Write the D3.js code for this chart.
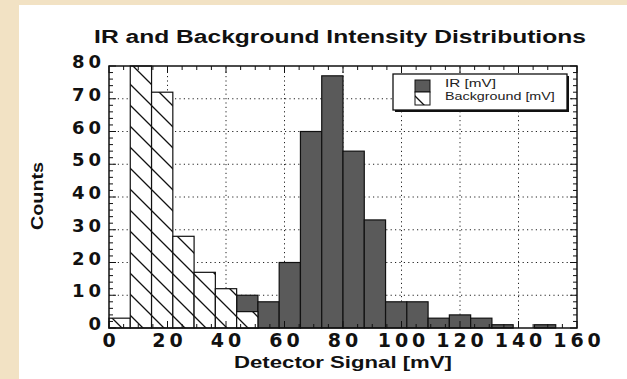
<!DOCTYPE html>
<html>
<head>
<meta charset="utf-8">
<script src="https://cdn.jsdelivr.net/npm/d3@7"></script>
<style>
  body { margin: 0; background: #f2e2c4; }
  svg { display: block; }
</style>
</head>
<body>
<svg id="chart" width="627" height="379"></svg>
<script>
// histogram bin edges (mV), 22 bins over 0..160
const binEdges = [0, 7.27, 14.55, 21.82, 29.09, 36.36, 43.64, 50.91, 58.18, 65.45, 72.73,
  80, 87.27, 94.55, 101.82, 109.09, 116.36, 123.64, 130.91, 138.18, 145.45, 152.73, 160];
const irCounts = [0, 0, 0, 0, 0, 0, 10, 8, 20, 60, 77, 54, 33, 8, 8, 3, 4, 3, 1, 0, 1, 0];
const bgCounts = [3, 80, 72, 28, 17, 12, 5, 0, 0, 0, 0, 0, 0, 0, 0, 0, 0, 0, 0, 0, 0, 0];
const xTicks = [0, 20, 40, 60, 80, 100, 120, 140, 160];
const yTicks = [0, 10, 20, 30, 40, 50, 60, 70, 80];
const legendLabels = ['IR [mV]', 'Background [mV]'];

const svg = d3.select('#chart');

// white paper panel on the beige page
svg.append('rect').attr('x', 19).attr('y', 5).attr('width', 620).attr('height', 380).attr('fill', '#fff');

const x = d3.scaleLinear().domain([0, 160]).range([109, 577]);
const y = d3.scaleLinear().domain([0, 80]).range([328, 66]);

const defs = svg.append('defs');
const hatch = defs.append('pattern')
  .attr('id', 'hatch')
  .attr('patternUnits', 'userSpaceOnUse')
  .attr('x', 4).attr('y', 0)
  .attr('width', 21).attr('height', 21);
hatch.append('rect').attr('width', 21).attr('height', 21).attr('fill', '#fff');
hatch.append('path')
  .attr('d', 'M-2,-2L23,23M-2,19L2,23M19,-2L23,2')
  .attr('stroke', '#111').attr('stroke-width', 1.3);

// squeeze/stretch text horizontally to a target width
function fitText(t, w) {
  const len = t.node().getComputedTextLength();
  const cx = +t.attr('data-x'), cy = +t.attr('data-y');
  t.attr('transform', 'translate(' + cx + ',' + cy + ') scale(' + (w / len) + ',1)');
}

// grid
const grid = svg.append('g').attr('stroke', '#222').attr('stroke-dasharray', '1.2,3.2').attr('stroke-width', 1);
grid.selectAll('.gx').data(xTicks.slice(1, -1)).enter().append('line')
  .attr('x1', d => x(d)).attr('x2', d => x(d)).attr('y1', y(0)).attr('y2', y(80));
grid.selectAll('.gy').data(yTicks.slice(1, -1)).enter().append('line')
  .attr('y1', d => y(d)).attr('y2', d => y(d)).attr('x1', x(0)).attr('x2', x(160));

// IR bars
svg.append('g').selectAll('rect')
  .data(irCounts.map((v, i) => ({ v, i })).filter(d => d.v > 0))
  .enter().append('rect')
  .attr('x', d => x(binEdges[d.i]))
  .attr('width', d => x(binEdges[d.i + 1]) - x(binEdges[d.i]))
  .attr('y', d => y(d.v))
  .attr('height', d => y(0) - y(d.v))
  .attr('fill', '#5a5a5a')
  .attr('stroke', '#111').attr('stroke-width', 1.2);

// background bars (drawn on top)
svg.append('g').selectAll('rect')
  .data(bgCounts.map((v, i) => ({ v, i })).filter(d => d.v > 0))
  .enter().append('rect')
  .attr('x', d => x(binEdges[d.i]))
  .attr('width', d => x(binEdges[d.i + 1]) - x(binEdges[d.i]))
  .attr('y', d => y(d.v))
  .attr('height', d => y(0) - y(d.v))
  .attr('fill', 'url(#hatch)')
  .attr('stroke', '#111').attr('stroke-width', 1.2);

// frame
svg.append('rect')
  .attr('x', x(0)).attr('y', y(80))
  .attr('width', x(160) - x(0)).attr('height', y(0) - y(80))
  .attr('fill', 'none').attr('stroke', '#111').attr('stroke-width', 1.5);

// inward ticks on all four sides
const ticks = svg.append('g').attr('stroke', '#111').attr('stroke-width', 1);
const xMinor = d3.range(0, 161, 5);
const yMinor = d3.range(0, 81, 2);
xMinor.forEach(v => {
  const len = v % 20 === 0 ? 7 : 4;
  ticks.append('line').attr('x1', x(v)).attr('x2', x(v)).attr('y1', y(0)).attr('y2', y(0) - len);
  ticks.append('line').attr('x1', x(v)).attr('x2', x(v)).attr('y1', y(80)).attr('y2', y(80) + len);
});
yMinor.forEach(v => {
  const len = v % 10 === 0 ? 7 : 4;
  ticks.append('line').attr('y1', y(v)).attr('y2', y(v)).attr('x1', x(0)).attr('x2', x(0) + len);
  ticks.append('line').attr('y1', y(v)).attr('y2', y(v)).attr('x1', x(160)).attr('x2', x(160) - len);
});

// tick labels
const numFont = '"DejaVu Sans", sans-serif';
svg.append('g').selectAll('text').data(xTicks).enter().append('text')
  .attr('x', d => x(d) + 2).attr('y', 347)
  .attr('text-anchor', 'middle')
  .attr('font-family', numFont).attr('font-weight', 'bold').attr('font-size', 19)
  .attr('letter-spacing', 4).attr('fill', '#111')
  .text(d => d);
svg.append('g').selectAll('text').data(yTicks).enter().append('text')
  .attr('x', 105).attr('y', d => y(d) + 2)
  .attr('text-anchor', 'end')
  .attr('font-family', numFont).attr('font-weight', 'bold').attr('font-size', 18)
  .attr('letter-spacing', 4).attr('fill', '#111')
  .text(d => d);

// titles
const txtFont = '"Liberation Sans", Arial, sans-serif';
const title = svg.append('text')
  .attr('data-x', 340).attr('data-y', 43)
  .attr('text-anchor', 'middle').attr('font-family', txtFont)
  .attr('font-weight', 'bold').attr('font-size', 19).attr('fill', '#111')
  .text('IR and Background Intensity Distributions');
fitText(title, 492);

const xTitle = svg.append('text')
  .attr('data-x', 343).attr('data-y', 368)
  .attr('text-anchor', 'middle').attr('font-family', txtFont)
  .attr('font-weight', 'bold').attr('font-size', 16).attr('fill', '#111')
  .text('Detector Signal [mV]');
fitText(xTitle, 218);

const yTitle = svg.append('text')
  .attr('text-anchor', 'middle').attr('font-family', txtFont)
  .attr('font-weight', 'bold').attr('font-size', 17).attr('fill', '#111')
  .text('Counts');
const yLen = yTitle.node().getComputedTextLength();
yTitle.attr('transform', 'translate(43,196) rotate(-90) scale(' + (68 / yLen) + ',1)');

// legend
const lg = svg.append('g');
lg.append('rect').attr('x', 395).attr('y', 76).attr('width', 174).attr('height', 36).attr('fill', '#111');
lg.append('rect').attr('x', 393).attr('y', 74).attr('width', 174).attr('height', 36)
  .attr('fill', '#fff').attr('stroke', '#111').attr('stroke-width', 1.3);
lg.append('rect').attr('x', 415).attr('y', 80).attr('width', 15).attr('height', 12)
  .attr('fill', '#5a5a5a').attr('stroke', '#111').attr('stroke-width', 1);
lg.append('rect').attr('x', 415).attr('y', 92).attr('width', 15).attr('height', 13)
  .attr('fill', 'url(#hatch)').attr('stroke', '#111').attr('stroke-width', 1);
legendLabels.forEach((s, i) => {
  const t = lg.append('text')
    .attr('data-x', 445).attr('data-y', 87 + i * 12.5)
    .attr('font-family', txtFont).attr('font-size', 10.5).attr('fill', '#222')
    .text(s);
  fitText(t, i === 0 ? 51 : 110);
});
</script>
</body>
</html>
